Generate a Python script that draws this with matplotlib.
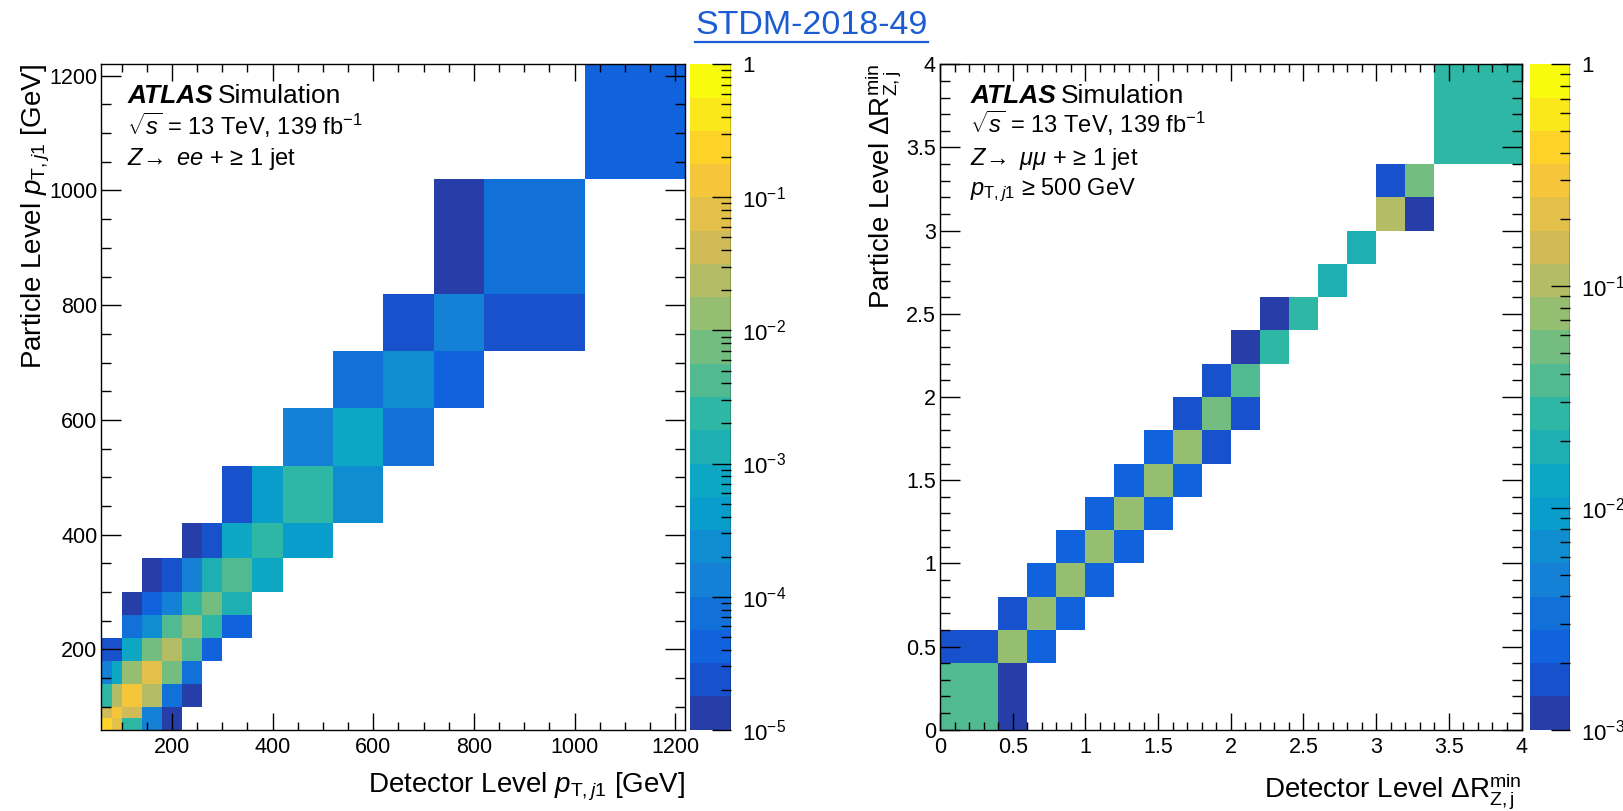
import numpy as np
import matplotlib
matplotlib.use("Agg")
import matplotlib.pyplot as plt
from matplotlib import font_manager
from matplotlib.colors import LinearSegmentedColormap, ListedColormap, LogNorm
from matplotlib.lines import Line2D
from matplotlib.ticker import MultipleLocator, LogLocator, FuncFormatter, NullFormatter

# ---- data -------------------------------------------------------------
pt_edges = [60, 80, 100, 140, 180, 220, 260, 300, 360, 420, 520, 620, 720, 820, 1020, 1220]
dr_edges = [0, 0.4, 0.6, 0.8, 1.0, 1.2, 1.4, 1.6, 1.8, 2.0, 2.2, 2.4, 2.6, 2.8, 3.0, 3.2, 3.4, 4.0]

# each row = one particle-level bin (bottom to top); values start at detector bin *_first_col
pt_first_col = [0, 0, 0, 0, 0, 2, 2, 3, 5, 7, 9, 10, 11, 12, 14]
pt_values = [
    [2.4e-1, 7.5e-2, 2.4e-3, 1.3e-4, 1.3e-5],
    [4.2e-2, 1.3e-1, 4.2e-2, 1.3e-4, 1.3e-5],
    [2.4e-3, 2.4e-2, 1.3e-1, 2.4e-2, 7.5e-5, 1.3e-5],
    [1.3e-4, 7.5e-4, 1.3e-2, 7.5e-2, 7.5e-3, 7.5e-5],
    [2.4e-5, 2.4e-5, 7.5e-4, 7.5e-3, 2.4e-2, 4.2e-3, 4.2e-5],
    [7.5e-5, 2.4e-4, 4.2e-3, 1.3e-2, 2.4e-3, 4.2e-5],
    [1.3e-5, 4.2e-5, 1.3e-4, 2.4e-3, 7.5e-3, 1.3e-3],
    [1.3e-5, 2.4e-5, 1.3e-4, 1.3e-3, 4.2e-3, 7.5e-4],
    [1.3e-5, 2.4e-5, 7.5e-4, 2.4e-3, 4.2e-4],
    [2.4e-5, 4.2e-4, 2.4e-3, 2.4e-4],
    [1.3e-4, 7.5e-4, 7.5e-5],
    [7.5e-5, 2.4e-4, 4.2e-5],
    [2.4e-5, 1.3e-4, 2.4e-5],
    [1.3e-5, 7.5e-5],
    [4.2e-5],
]

dr_first_col = [0, 0, 1, 2, 3, 4, 5, 6, 7, 8, 9, 10, 12, 13, 14, 14, 16]
dr_values = [
    [3.8e-2, 1.2e-3],
    [1.7e-3, 7.5e-2, 2.4e-3],
    [1.7e-3, 7.5e-2, 2.4e-3],
    [2.4e-3, 7.5e-2, 2.4e-3],
    [2.4e-3, 7.5e-2, 2.4e-3],
    [2.4e-3, 7.5e-2, 2.4e-3],
    [2.4e-3, 7.5e-2, 2.4e-3],
    [2.4e-3, 7.5e-2, 1.7e-3],
    [1.7e-3, 5.3e-2, 1.7e-3],
    [1.7e-3, 3.8e-2],
    [1.2e-3, 2.7e-2],
    [1.2e-3, 2.7e-2],
    [1.9e-2],
    [1.9e-2],
    [1.1e-1, 1.2e-3],
    [1.7e-3, 5.3e-2],
    [2.7e-2],
]

# ---- style ------------------------------------------------------------
names = {f.name for f in font_manager.fontManager.ttflist}
base = 'Liberation Sans Narrow' if 'Liberation Sans Narrow' in names else 'Liberation Sans'
plt.rcParams['font.family'] = [base, 'Liberation Sans', 'DejaVu Sans']
plt.rcParams['mathtext.fontset'] = 'custom'
plt.rcParams['mathtext.rm'] = base
plt.rcParams['mathtext.it'] = base + ':italic'
plt.rcParams['mathtext.bf'] = base + ':bold'

# ROOT kBird palette, 20 contour levels
bird = [(0.0, (0.2082, 0.1664, 0.5293)), (0.125, (0.0592, 0.3599, 0.8684)),
        (0.25, (0.0780, 0.5041, 0.8385)), (0.375, (0.0232, 0.6419, 0.7914)),
        (0.5, (0.1802, 0.7178, 0.6425)), (0.625, (0.5301, 0.7492, 0.4662)),
        (0.75, (0.8186, 0.7328, 0.3499)), (0.875, (0.9956, 0.7862, 0.1968)),
        (1.0, (0.9764, 0.9832, 0.0539))]
bird_cmap = LinearSegmentedColormap.from_list('bird', bird, N=255)
ncont = 20
cmap = ListedColormap([bird_cmap(int((i + 0.99) * 255 / ncont) / 254) for i in range(ncont)])


def to_matrix(first_col, values, nbins):
    m = np.full((nbins, nbins), np.nan)
    for r, (c0, vals) in enumerate(zip(first_col, values)):
        m[r, c0:c0 + len(vals)] = vals
    return np.ma.masked_invalid(m)


def pow_fmt(v, pos):
    e = int(round(np.log10(v)))
    return '1' if e == 0 else r'$10^{%d}$' % e


fig = plt.figure(figsize=(16.23, 8.11), dpi=100)
ax_l = fig.add_axes([0.0625, 0.1002, 0.3597, 0.8206])
cax_l = fig.add_axes([0.4251, 0.1002, 0.0253, 0.8206])
ax_r = fig.add_axes([0.5792, 0.1002, 0.3583, 0.8206])
cax_r = fig.add_axes([0.9427, 0.1002, 0.0246, 0.8206])


def draw_panel(ax, cax, edges, mat, zmin, major, minor, fmt):
    mesh = ax.pcolormesh(edges, edges, mat, cmap=cmap, norm=LogNorm(zmin, 1))
    ax.set_xlim(edges[0], edges[-1])
    ax.set_ylim(edges[0], edges[-1])
    for axis in (ax.xaxis, ax.yaxis):
        axis.set_major_locator(MultipleLocator(major))
        axis.set_minor_locator(MultipleLocator(minor))
        axis.set_major_formatter(FuncFormatter(fmt))
    ax.tick_params(which='both', direction='in', top=True, right=True, labelsize=15.5, width=1)
    ax.tick_params(axis='x', which='major', length=12, pad=5)
    ax.tick_params(axis='x', which='minor', length=6)
    ax.tick_params(axis='y', which='major', length=14.5, pad=3)
    ax.tick_params(axis='y', which='minor', length=7)
    for s in ax.spines.values():
        s.set_linewidth(1)

    cb = fig.colorbar(mesh, cax=cax)
    cb.outline.set_visible(False)
    cax.axvline(1, color='k', lw=1)
    cax.yaxis.set_major_locator(LogLocator(base=10))
    cax.yaxis.set_minor_locator(LogLocator(base=10, subs=np.arange(2, 10)))
    cax.yaxis.set_major_formatter(FuncFormatter(pow_fmt))
    cax.yaxis.set_minor_formatter(NullFormatter())
    cax.tick_params(which='both', direction='in', right=True, left=False, labelsize=16, width=1, pad=8)
    cax.tick_params(which='major', length=14)
    cax.tick_params(which='minor', length=7)


def atlas_label(ax, x, y0, lines, dy):
    t = ax.text(x, y0, 'ATLAS', transform=ax.transAxes, fontsize=19,
                fontweight='bold', fontstyle='italic', va='baseline')
    fig.canvas.draw()
    bb = t.get_window_extent()
    xs = ax.transAxes.inverted().transform((bb.x1 + 5, bb.y0))[0]
    ax.text(xs, y0, 'Simulation', transform=ax.transAxes, fontsize=19, va='baseline')
    for k, s in enumerate(lines):
        ax.text(x, y0 - dy[k], s, transform=ax.transAxes, fontsize=17, va='baseline')


draw_panel(ax_l, cax_l, pt_edges, to_matrix(pt_first_col, pt_values, len(pt_edges) - 1),
           1e-5, 200, 50, lambda v, p: '%d' % v)
draw_panel(ax_r, cax_r, dr_edges, to_matrix(dr_first_col, dr_values, len(dr_edges) - 1),
           1e-3, 0.5, 0.1, lambda v, p: '%g' % v)

ax_l.set_xlabel(r'Detector Level $p_{\mathrm{T},\mathit{j}1}$ [GeV]', fontsize=20, loc='right')
ax_l.set_ylabel(r'Particle Level $p_{\mathrm{T},\mathit{j}1}$ [GeV]', fontsize=20, loc='top')
ax_l.xaxis.set_label_coords(1.0, -0.062)
ax_l.yaxis.set_label_coords(-0.085, 1.0)

ax_r.set_xlabel(r'Detector Level $\Delta\mathrm{R}^{\mathrm{min}}_{\mathrm{Z,j}}$', fontsize=20, loc='right')
ax_r.set_ylabel(r'Particle Level $\Delta\mathrm{R}^{\mathrm{min}}_{\mathrm{Z,j}}$', fontsize=20, loc='top')
ax_r.xaxis.set_label_coords(1.0, -0.063)
ax_r.yaxis.set_label_coords(-0.063, 1.0)

atlas_label(ax_l, 0.044, 0.941,
            [r'$\sqrt{s}$ = 13 TeV, 139 fb$^{-1}$', r'$Z\!\rightarrow$ $ee$ + ≥ 1 jet'],
            [0.047, 0.093])
atlas_label(ax_r, 0.0516, 0.941,
            [r'$\sqrt{s}$ = 13 TeV, 139 fb$^{-1}$', r'$Z\!\rightarrow$ $\mu\mu$ + ≥ 1 jet',
             r'$p_{\mathrm{T},\mathit{j}1}$ ≥ 500 GeV'],
            [0.045, 0.092, 0.138])

# title with underline
title = fig.text(0.5, 1 - 34 / 811, 'STDM-2018-49', ha='center', va='baseline',
                 fontsize=24.5, color='#1c5cd2', family=['Liberation Sans', 'DejaVu Sans'])
fig.canvas.draw()
tb = title.get_window_extent()
yline = (tb.y0 - 1) / fig.bbox.height
fig.add_artist(Line2D([tb.x0 / fig.bbox.width, tb.x1 / fig.bbox.width], [yline, yline],
                      transform=fig.transFigure, color='#1c5cd2', lw=1.6))

fig.savefig('out.png', dpi=100)
